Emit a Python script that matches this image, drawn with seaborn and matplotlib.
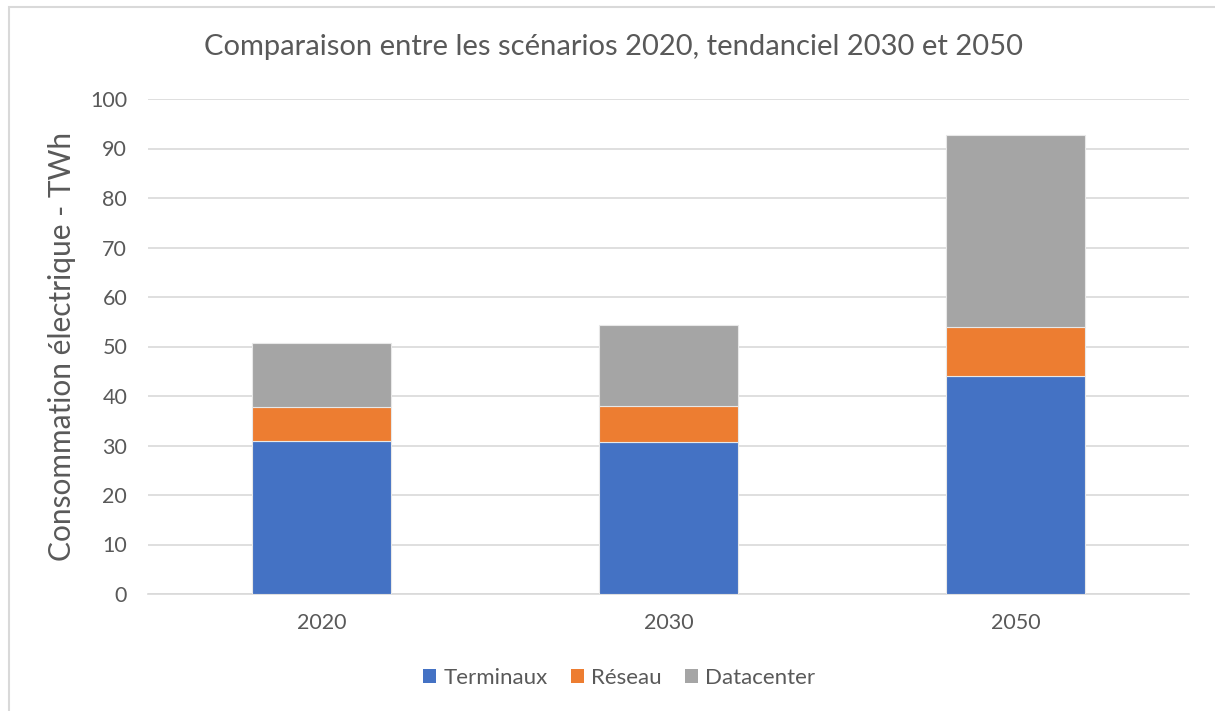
import matplotlib
matplotlib.use("Agg")
import matplotlib.pyplot as plt
import seaborn as sns
import pandas as pd
from matplotlib.patches import Rectangle, Patch

categories = ["2020", "2030", "2050"]
terminaux = [30.9, 30.7, 44.1]
reseau = [6.9, 7.2, 9.8]
datacenter = [12.9, 16.4, 38.9]
series_names = ["Terminaux", "Réseau", "Datacenter"]
colors = ["#4472C4", "#ED7D31", "#A5A5A5"]
yticks = [0, 10, 20, 30, 40, 50, 60, 70, 80, 90, 100]

sns.set_theme(style="white")
plt.rcParams['font.family'] = ['Lato', 'DejaVu Sans']

df = pd.DataFrame({"cat": categories, "Terminaux": terminaux,
                   "Réseau": reseau, "Datacenter": datacenter})

fig = plt.figure(figsize=(12.15, 7.11), dpi=100)
ax = fig.add_axes([148/1215, 1-594/711, (1189-148)/1215, (594-99)/711])

bottom = [0.0] * len(categories)
for name, col in zip(series_names, colors):
    vals = df[name].tolist()
    sns.barplot(x="cat", y=name, data=df, color=col, width=0.4, ax=ax,
                bottom=bottom, edgecolor="#E8E8E8", linewidth=0.8, zorder=3,
                saturation=1)
    bottom = [b + v for b, v in zip(bottom, vals)]

ax.set_ylim(0, 100)
ax.set_xlim(-0.5, 2.5)
ax.set_yticks(yticks)
ax.yaxis.grid(True, color="#D9D9D9", linewidth=1.2, zorder=0)
ax.set_axisbelow(True)
for s in ["top", "right", "left"]:
    ax.spines[s].set_visible(False)
ax.spines["bottom"].set_color("#D9D9D9")
ax.spines["bottom"].set_linewidth(1.2)
ax.tick_params(axis="both", length=0, labelsize=15.5, colors="#595959")
ax.tick_params(axis="y", pad=15)
ax.tick_params(axis="x", pad=14)
ax.set_xlabel("")
ax.set_ylabel("Consommation électrique - TWh", fontsize=21.5, color="#595959", labelpad=10)

fig.text(614/1215, 1-47/711, "Comparaison entre les scénarios 2020, tendanciel 2030 et 2050",
         ha="center", va="center", fontsize=21, color="#595959")

handles = [Patch(facecolor=c, edgecolor="none") for c in colors]
fig.legend(handles, series_names, loc="center", bbox_to_anchor=(619/1215, 1-678/711),
           ncol=3, frameon=False, fontsize=16, labelcolor="#595959",
           handlelength=0.6, handleheight=0.6, handletextpad=0.3, columnspacing=1.05)

fig.patches.append(Rectangle((9/1215, -0.01), 1.02, 1 - 7/711 + 0.01, transform=fig.transFigure,
                             fill=False, edgecolor="#D9D9D9", linewidth=1.5))

fig.savefig("out.png", dpi=100, facecolor="white")
